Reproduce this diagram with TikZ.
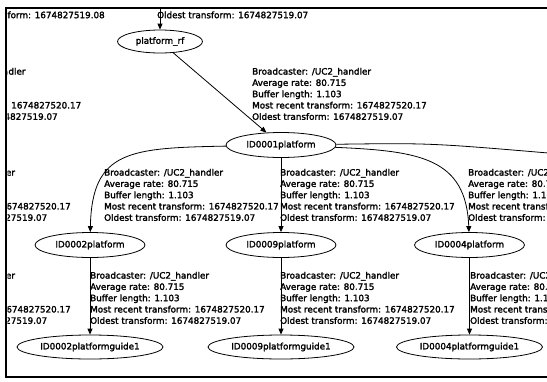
\documentclass[tikz,border=0pt]{standalone}
\usepackage{fontspec}
\setmainfont{DejaVu Sans}[RawFeature={embolden=2}]
\usetikzlibrary{arrows.meta,shapes.geometric}

% five-line transform statistics attached to every edge
\newcommand\tfinfo[2]{Broadcaster: /UC2\_handler\\Average rate: 80.715\\Buffer length: 1.103\\Most recent transform: #1\\Oldest transform: #2}

\begin{document}
\begin{tikzpicture}[x=1pt,y=-1pt,
  tfnode/.style={ellipse,draw,line width=0.8pt,inner sep=0pt,
    minimum width=110pt,minimum height=25pt,
    font=\fontsize{8.8}{11.3}\selectfont},
  guide/.style={tfnode,minimum width=146pt,minimum height=24pt},
  lbl/.style={anchor=north west,inner sep=0pt,align=left,
    font=\fontsize{8.8}{11.3}\selectfont},
  tf/.style={line width=0.8pt,-{Triangle[length=6pt,width=5pt]}}]

\fill[white] (0,0) rectangle (547,381);
\useasboundingbox (0,0) rectangle (547,381);

\begin{scope}
\clip (7.5,9.5) rectangle (547,375.5);

% frames
\node[tfnode,minimum width=85pt,minimum height=23pt] (rf) at (160,41.5) {platform\_rf};
\node[tfnode] (n1) at (281,145) {ID0001platform};
\node[tfnode] (n2) at (90,245) {ID0002platform};
\node[tfnode] (n9) at (281,245) {ID0009platform};
\node[tfnode] (n4) at (469.5,245) {ID0004platform};
\node[guide] (g2) at (90,347) {ID0002platformguide1};
\node[guide] (g9) at (281,347) {ID0009platformguide1};
\node[guide] (g4) at (469.5,347) {ID0004platformguide1};

% parents and children outside the visible area
\coordinate (up) at (160,-20);
\coordinate (east) at (560,154);

% transforms
\draw[tf] (up) -- (rf);
\draw[tf] (rf) -- (n1);
\draw[tf] (n1) .. controls (130,148) and (92,150) .. (n2);
\draw[tf] (n1) -- (n9);
\draw[tf] (n1) .. controls (420,151) and (466,158) .. (n4);
\draw[tf] (n1) .. controls (430,143) .. (east);
\draw[tf] (n2) -- (g2);
\draw[tf] (n9) -- (g9);
\draw[tf] (n4) -- (g4);

% edge statistics
\node[lbl] (t0) at (-46.5,11.3) {Oldest transform: 1674827519.08};
\node[lbl] (t1) at (157,11.3) {Oldest transform: 1674827519.07};

\node[lbl] (a0) at (-93.5,67.7) {\tfinfo{1674827520.17}{1674827519.07}};
\node[lbl] (a1) at (252,67.7) {\tfinfo{1674827520.17}{1674827519.07}};

\node[lbl] (b0) at (-104,168.7) {\tfinfo{1674827520.17}{1674827519.07}};
\node[lbl] (b1) at (104,168.7) {\tfinfo{1674827520.17}{1674827519.07}};
\node[lbl] (b2) at (280,168.7) {\tfinfo{1674827520.17}{1674827519.07}};
\node[lbl] (b3) at (468,168.7) {\tfinfo{1674827520.17}{1674827519.07}};

\node[lbl] (c0) at (-104,271.7) {\tfinfo{1674827520.17}{1674827519.07}};
\node[lbl] (c1) at (90,271.7) {\tfinfo{1674827520.17}{1674827519.07}};
\node[lbl] (c2) at (280,271.7) {\tfinfo{1674827520.17}{1674827519.07}};
\node[lbl] (c3) at (470,271.7) {\tfinfo{1674827520.17}{1674827519.07}};
\end{scope}

% window border
\draw[line width=2.5pt,line join=miter] (547,8) -- (6,8) -- (6,377) -- (547,377);
\end{tikzpicture}
\end{document}
